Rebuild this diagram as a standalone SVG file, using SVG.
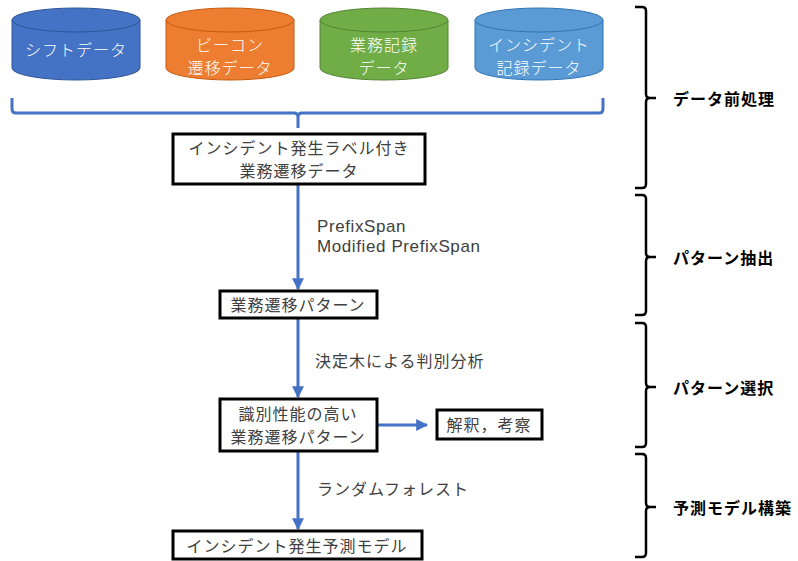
<svg xmlns="http://www.w3.org/2000/svg" width="798" height="561" viewBox="0 0 798 561">
<defs>
<style>
.jp{font-family:"Noto Sans CJK JP","Noto Sans",sans-serif;font-size:16px;letter-spacing:1px;fill:#404040}
.lat{font-family:"Liberation Sans","Noto Sans",sans-serif;font-size:17px;letter-spacing:0.6px;fill:#404040}
.cyl{font-family:"Noto Sans CJK JP","Noto Sans",sans-serif;font-size:16px;letter-spacing:1px;fill:#ffffff;font-weight:300}
.box{fill:#ffffff;stroke:#000000;stroke-width:3}
.con{stroke:#4472C4;stroke-width:3;fill:none}
.br{stroke:#000000;stroke-width:2.5;fill:none}
.phase{font-family:"Noto Sans CJK JP","Noto Sans",sans-serif;font-size:16px;letter-spacing:1px;font-weight:bold;fill:#000000}
</style>
<marker id="ah" viewBox="0 0 10 10" refX="9" refY="5" markerWidth="4" markerHeight="4" orient="auto" markerUnits="strokeWidth">
<path d="M0,0 L10,5 L0,10 Z" fill="#4472C4"/>
</marker>
</defs>
<rect width="798" height="561" fill="#ffffff"/>

<g id="shift">
<path d="M12,20 L12,68 A64,12 0 0 0 140,68 L140,20 Z" fill="#4472C4" stroke="#2F5597" stroke-width="1"/>
<ellipse cx="76" cy="20" rx="64" ry="12" fill="#4472C4" stroke="#2F5597" stroke-width="1"/>
<text class="cyl" x="76" y="49" text-anchor="middle" dominant-baseline="central">シフトデータ</text>
</g>
<g id="beacon">
<path d="M166,20 L166,68 A64,12 0 0 0 294,68 L294,20 Z" fill="#ED7D31" stroke="#C55A11" stroke-width="1"/>
<ellipse cx="230" cy="20" rx="64" ry="12" fill="#ED7D31" stroke="#C55A11" stroke-width="1"/>
<text class="cyl" x="230" y="44" text-anchor="middle" dominant-baseline="central">ビーコン</text>
<text class="cyl" x="230" y="67" text-anchor="middle" dominant-baseline="central">遷移データ</text>
</g>
<g id="gyomu">
<path d="M320,20 L320,68 A64,12 0 0 0 448,68 L448,20 Z" fill="#70AD47" stroke="#548235" stroke-width="1"/>
<ellipse cx="384" cy="20" rx="64" ry="12" fill="#70AD47" stroke="#548235" stroke-width="1"/>
<text class="cyl" x="384" y="44" text-anchor="middle" dominant-baseline="central">業務記録</text>
<text class="cyl" x="384" y="67" text-anchor="middle" dominant-baseline="central">データ</text>
</g>
<g id="incident">
<path d="M475,20 L475,68 A64,12 0 0 0 603,68 L603,20 Z" fill="#5B9BD5" stroke="#2E75B6" stroke-width="1"/>
<ellipse cx="539" cy="20" rx="64" ry="12" fill="#5B9BD5" stroke="#2E75B6" stroke-width="1"/>
<text class="cyl" x="539" y="44" text-anchor="middle" dominant-baseline="central">インシデント</text>
<text class="cyl" x="539" y="67" text-anchor="middle" dominant-baseline="central">記録データ</text>
</g>

<g id="connectors">
<path class="con" d="M12,98 L12,109 Q12,113 16,113 L294,113 Q298,113 298,117 L298,128 M298,117 Q298,113 302,113 L599,113 Q603,113 603,109 L603,98"/>
<line class="con" x1="298" y1="184" x2="298" y2="289" marker-end="url(#ah)"/>
<line class="con" x1="298" y1="318" x2="298" y2="397" marker-end="url(#ah)"/>
<line class="con" x1="377" y1="425" x2="427" y2="425" marker-end="url(#ah)"/>
<line class="con" x1="298" y1="451" x2="298" y2="529" marker-end="url(#ah)"/>
</g>

<g id="labeled">
<rect class="box" x="173" y="134" width="252" height="50"/>
<text class="jp" x="299" y="147" text-anchor="middle" dominant-baseline="central">インシデント発生ラベル付き</text>
<text class="jp" x="299" y="170" text-anchor="middle" dominant-baseline="central">業務遷移データ</text>
</g>
<g id="pattern">
<rect class="box" x="220" y="291" width="157" height="27"/>
<text class="jp" x="298" y="304" text-anchor="middle" dominant-baseline="central">業務遷移パターン</text>
</g>
<g id="selected">
<rect class="box" x="220" y="399" width="157" height="52"/>
<text class="jp" x="298" y="413" text-anchor="middle" dominant-baseline="central">識別性能の高い</text>
<text class="jp" x="298" y="436" text-anchor="middle" dominant-baseline="central">業務遷移パターン</text>
</g>
<g id="interpret">
<rect class="box" x="437" y="410" width="105" height="29"/>
<text class="jp" x="489" y="424" text-anchor="middle" dominant-baseline="central">解釈，考察</text>
</g>
<g id="model">
<rect class="box" x="173" y="531" width="249" height="28"/>
<text class="jp" x="297" y="545" text-anchor="middle" dominant-baseline="central">インシデント発生予測モデル</text>
</g>

<g id="edge-labels">
<text class="lat" x="317" y="232">PrefixSpan</text>
<text class="lat" x="317" y="252">Modified PrefixSpan</text>
<text class="jp" x="315" y="360" dominant-baseline="central">決定木による判別分析</text>
<text class="jp" x="317" y="488" dominant-baseline="central">ランダムフォレスト</text>
</g>

<g id="phases">
<path class="br" d="M635,7 L642,7 Q646,7 646,11 L646,94 Q646,98 650,98 L656,98 M650,98 Q646,98 646,102 L646,184 Q646,188 642,188 L635,188"/>
<text class="phase" x="673" y="98" dominant-baseline="central">データ前処理</text>
<path class="br" d="M635,195 L642,195 Q646,195 646,199 L646,253 Q646,257 650,257 L656,257 M650,257 Q646,257 646,261 L646,311 Q646,315 642,315 L635,315"/>
<text class="phase" x="673" y="257" dominant-baseline="central">パターン抽出</text>
<path class="br" d="M635,323 L642,323 Q646,323 646,327 L646,383 Q646,387 650,387 L656,387 M650,387 Q646,387 646,391 L646,443 Q646,447 642,447 L635,447"/>
<text class="phase" x="673" y="387" dominant-baseline="central">パターン選択</text>
<path class="br" d="M635,454 L642,454 Q646,454 646,458 L646,503 Q646,507 650,507 L656,507 M650,507 Q646,507 646,511 L646,553 Q646,557 642,557 L635,557"/>
<text class="phase" x="673" y="507" dominant-baseline="central">予測モデル構築</text>
</g>
</svg>
